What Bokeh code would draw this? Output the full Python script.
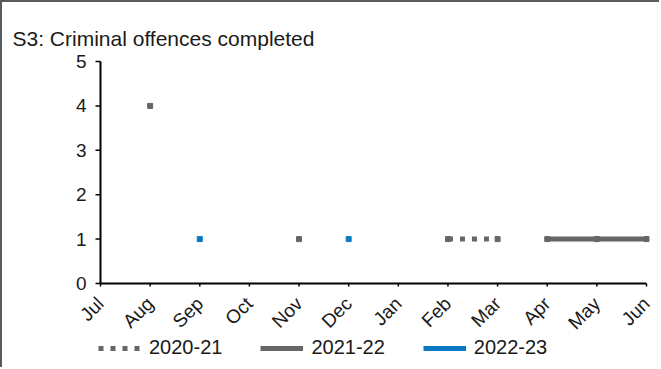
import math
from bokeh.plotting import figure
from bokeh.models import Range1d, FixedTicker, Legend, LegendItem, Title
from bokeh.embed import file_html
from bokeh.resources import INLINE

nan = float("nan")

months = ["Jul", "Aug", "Sep", "Oct", "Nov", "Dec", "Jan", "Feb", "Mar", "Apr", "May", "Jun"]
series_names = ["2020-21", "2021-22", "2022-23"]
s2020_21 = [nan, 4, nan, nan, 1, nan, nan, 1, 1, nan, nan, nan]
s2021_22 = [nan, nan, nan, nan, nan, nan, nan, nan, nan, 1, 1, 1]
s2022_23 = [nan, nan, 1, nan, nan, 1, nan, nan, nan, nan, nan, nan]
y_ticks = [0, 1, 2, 3, 4, 5]

FONT = "Liberation Sans"
TXT = "#1a1a1a"
GREY = "#666666"
BLUE = "#0a78c2"

x = list(range(len(months)))
n = len(months)

# pixel scale of the plotting area (546 px for 11 months, 222 px for 0..5)
PX_X = 546 / (n - 1)
PX_Y = 222 / (y_ticks[-1] - y_ticks[0])
# the frame is widened around the axes so that tick labels and legend are not clipped
X_MIN = -(40 / PX_X)
X_MAX = (n - 1) + 15 / PX_X
Y_MIN = -(86 / PX_Y)
Y_MAX = y_ticks[-1] + 12 / PX_Y

p = figure(width=659, height=367, output_backend="svg", toolbar_location=None,
           x_range=Range1d(X_MIN, X_MAX), y_range=Range1d(Y_MIN, Y_MAX),
           min_border_left=58, min_border_right=0, min_border_top=47, min_border_bottom=0)
p.outline_line_color = None
p.grid.visible = False
p.background_fill_color = "white"
p.border_fill_color = "white"

title = Title(text="S3: Criminal offences completed", align="left", offset=-48,
              text_font=FONT, text_font_size="21px", text_font_style="normal",
              text_color=TXT, standoff=0)
p.add_layout(title, "above")

# axis rules and tick marks
p.line(x=[x[0], x[-1]], y=[y_ticks[0], y_ticks[0]], line_color="black", line_width=2)
p.line(x=[x[0], x[0]], y=[y_ticks[0], y_ticks[-1]], line_color="black", line_width=2)
p.segment(x0=x, y0=[y_ticks[0]] * n, x1=x, y1=[y_ticks[0] - 3 / PX_Y] * n,
          line_color="black", line_width=1.5)
p.segment(x0=[x[0]] * len(y_ticks), y0=y_ticks, x1=[x[0] - 5 / PX_X] * len(y_ticks), y1=y_ticks,
          line_color="black", line_width=1.5)

def pts(vals):
    xs = [xi for xi, v in zip(x, vals) if not math.isnan(v)]
    ys = [v for v in vals if not math.isnan(v)]
    return xs, ys

r1 = p.line(x, s2020_21, line_color=GREY, line_width=5, line_dash="5 7", line_cap="butt")
xs, ys = pts(s2020_21)
p.scatter(xs, ys, marker="square", size=5, color=GREY)

r2 = p.line(x, s2021_22, line_color=GREY, line_width=5)
xs, ys = pts(s2021_22)
p.scatter(xs, ys, marker="square", size=5, color=GREY)

r3 = p.line(x, s2022_23, line_color=BLUE, line_width=5)
xs, ys = pts(s2022_23)
p.scatter(xs, ys, marker="square", size=5, color=BLUE)

for ax in (p.xaxis[0], p.yaxis[0]):
    ax.fixed_location = 0
    ax.axis_line_color = None
    ax.major_tick_line_color = None
    ax.minor_tick_line_color = None
    ax.major_tick_in = 0
    ax.major_tick_out = 0
    ax.minor_tick_in = 0
    ax.minor_tick_out = 0
    ax.major_label_text_font = FONT
    ax.major_label_text_color = TXT
    ax.major_label_text_font_size = "19px"

p.yaxis[0].ticker = FixedTicker(ticks=y_ticks)
p.yaxis[0].major_label_standoff = 14

p.xaxis[0].ticker = FixedTicker(ticks=x)
p.xaxis[0].major_label_overrides = {i: m for i, m in enumerate(months)}
p.xaxis[0].major_label_orientation = math.pi / 4
p.xaxis[0].major_label_standoff = 17

legend = Legend(items=[LegendItem(label=series_names[0], renderers=[r1]),
                       LegendItem(label=series_names[1], renderers=[r2]),
                       LegendItem(label=series_names[2], renderers=[r3])],
                orientation="horizontal", location=(38, 10),
                glyph_width=43, glyph_height=16, label_standoff=8, spacing=38,
                padding=0, margin=0, border_line_alpha=0, background_fill_alpha=0,
                label_text_font=FONT, label_text_font_size="20px", label_text_color=TXT)
p.add_layout(legend, "center")

p.styles = {"border-top": "2px solid #5a5a5a", "border-left": "2px solid #5a5a5a"}

open("out.html", "w").write(file_html(p, INLINE))
